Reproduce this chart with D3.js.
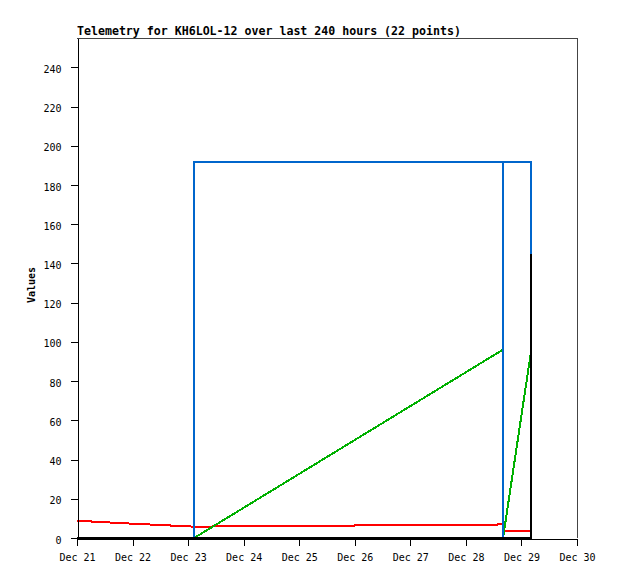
<!DOCTYPE html>
<html>
<head>
<meta charset="utf-8">
<script src="https://cdn.jsdelivr.net/npm/d3@7"></script>
<style>
  html, body { margin: 0; padding: 0; background: #fff; }
  svg { display: block; }
  text { font-family: "DejaVu Sans Mono", "Liberation Mono", monospace; fill: #000; }
</style>
</head>
<body>
<svg id="chart" width="618" height="579"></svg>
<script>
// ---- data ----
const title = "Telemetry for KH6LOL-12 over last 240 hours (22 points)";
const yLabel = "Values";
const times = [
  "2024-12-21T00:00:00Z",
  "2024-12-22T00:00:00Z",
  "2024-12-23T02:30:00Z",
  "2024-12-23T02:35:00Z",
  "2024-12-28T15:55:00Z",
  "2024-12-28T16:05:00Z",
  "2024-12-28T16:10:00Z",
  "2024-12-29T04:00:00Z",
  "2024-12-29T04:05:00Z"
];
const redValues   = [8.8, 7.3, 5.8, 5.8, 6.9, 3.7, 3.7, 3.7, 3.7];
const greenValues = [0, 0, 0, 0, 96, 1, 1, 94, 94];
const blueValues  = [0, 0, 0, 192, 192, 0, 192, 192, 0];
const blackValues = [0, 0, 0, 0, 0, 0, 0, 0, 145];
const yTicks = [0, 20, 40, 60, 80, 100, 120, 140, 160, 180, 200, 220, 240];
const xDomain = ["2024-12-21T00:00:00Z", "2024-12-30T00:00:00Z"];
const yMax = 255;

const series = [
  { name: "red",   color: "#ff0000", values: redValues },
  { name: "green", color: "#00b000", values: greenValues },
  { name: "blue",  color: "#0066cc", values: blueValues },
  { name: "black", color: "#000000", values: blackValues }
];

// ---- layout ----
const pLeft = 77, pRight = 577, pTop = 38, pBottom = 538;
const svg = d3.select("#chart");

const x = d3.scaleUtc()
  .domain(xDomain.map(d => new Date(d)))
  .range([pLeft, pRight]);
const y = d3.scaleLinear().domain([0, yMax]).range([pBottom, pTop]);

const dates = times.map(t => new Date(t));

// clip
svg.append("defs").append("clipPath").attr("id", "plotclip")
  .append("rect").attr("x", pLeft).attr("y", pTop - 1)
  .attr("width", pRight - pLeft + 1).attr("height", pBottom - pTop + 2);

// frame (top and right)
svg.append("path")
  .attr("d", `M${pLeft},${pTop + 0.5}H${pRight + 0.5}V${pBottom}`)
  .attr("fill", "none").attr("stroke", "#444").attr("stroke-width", 1)
  .attr("shape-rendering", "crispEdges");

// series lines
const g = svg.append("g").attr("clip-path", "url(#plotclip)");
series.forEach(s => {
  const line = d3.line()
    .x((d, i) => x(dates[i]))
    .y(d => y(d));
  g.append("path")
    .datum(s.values)
    .attr("d", line)
    .attr("fill", "none")
    .attr("stroke", s.color)
    .attr("stroke-width", 2)
    .attr("shape-rendering", "crispEdges");
});

// x axis
const xAxis = d3.axisBottom(x)
  .ticks(d3.utcDay.every(1))
  .tickFormat(d3.utcFormat("%b %d"))
  .tickSizeInner(7).tickSizeOuter(0).tickPadding(8);
const gx = svg.append("g")
  .attr("transform", `translate(0,${pBottom + 0.5})`)
  .call(xAxis);
gx.selectAll("path, line").attr("stroke", "#000").attr("shape-rendering", "crispEdges");
gx.selectAll("text").attr("font-size", "10px")
  .attr("font-family", "DejaVu Sans Mono, monospace").attr("fill", "#000");

// y axis
const yAxis = d3.axisLeft(y)
  .tickValues(yTicks)
  .tickSizeInner(7).tickSizeOuter(0).tickPadding(9);
const gy = svg.append("g")
  .attr("transform", `translate(${pLeft + 0.5},0)`)
  .call(yAxis);
gy.selectAll("path, line").attr("stroke", "#000").attr("shape-rendering", "crispEdges");
gy.selectAll("text").attr("font-size", "10px")
  .attr("dy", "0.5em")
  .attr("font-family", "DejaVu Sans Mono, monospace").attr("fill", "#000");

// title
svg.append("text")
  .attr("x", pLeft).attr("y", 35)
  .attr("font-size", "11.6px").attr("font-weight", "bold")
  .text(title);

// y label
svg.append("text")
  .attr("transform", `translate(35,285) rotate(-90)`)
  .attr("text-anchor", "middle")
  .attr("font-size", "10px").attr("font-weight", "bold")
  .text(yLabel);
</script>
</body>
</html>
